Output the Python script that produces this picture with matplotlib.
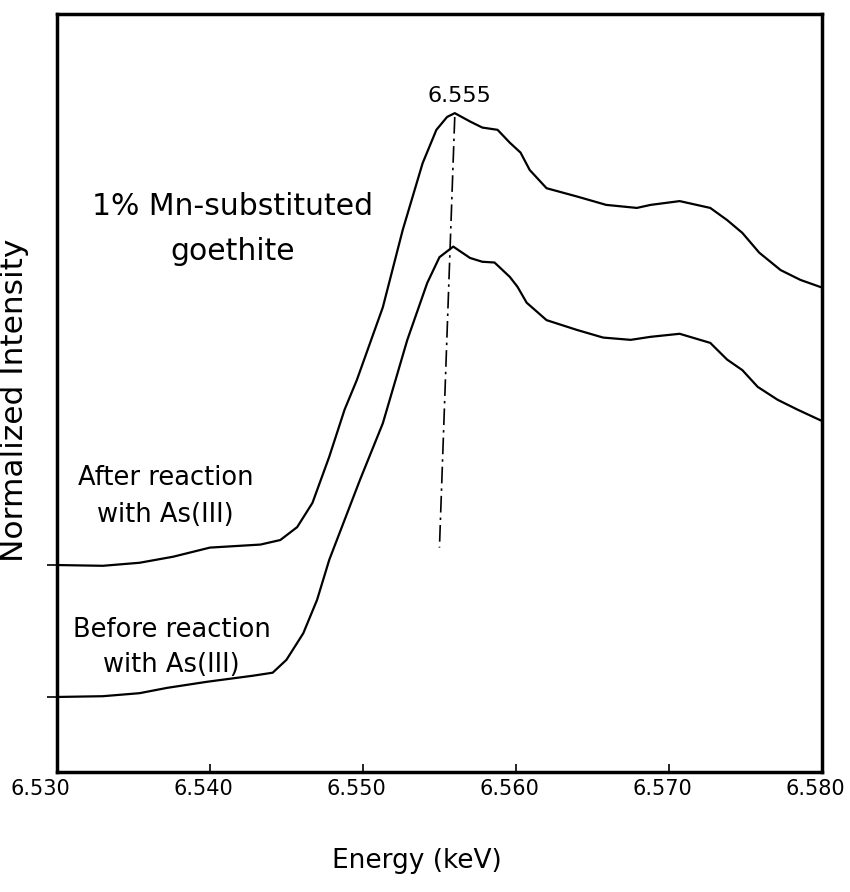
import matplotlib
matplotlib.use("Agg")
import matplotlib.pyplot as plt
import matplotlib.transforms as mtransforms

plt.rcParams['font.family'] = ['DejaVu Sans']

# Mn K-edge XANES (arbitrary normalized units)
after_energy = [6.5300, 6.5330, 6.5354, 6.5376, 6.5400, 6.5433, 6.5446, 6.5457,
                6.5467, 6.5478, 6.5488, 6.5496, 6.5513, 6.5526, 6.5539, 6.5548,
                6.5555, 6.5560, 6.5570, 6.5578, 6.5588, 6.5596, 6.5603, 6.5609,
                6.5620, 6.5640, 6.5659, 6.5679, 6.5688, 6.5707, 6.5727, 6.5738,
                6.5748, 6.5759, 6.5773, 6.5786, 6.5800]
after_int = [0.273, 0.272, 0.276, 0.284, 0.296, 0.300, 0.306, 0.323,
             0.355, 0.416, 0.478, 0.517, 0.613, 0.715, 0.803, 0.847,
             0.864, 0.869, 0.858, 0.850, 0.847, 0.830, 0.817, 0.794,
             0.770, 0.759, 0.748, 0.744, 0.748, 0.753, 0.744, 0.728,
             0.711, 0.685, 0.662, 0.649, 0.639]

before_energy = [6.5300, 6.5330, 6.5354, 6.5372, 6.5398, 6.5428, 6.5441, 6.5450,
                 6.5461, 6.5470, 6.5478, 6.5498, 6.5513, 6.5529, 6.5542, 6.5550,
                 6.5559, 6.5570, 6.5578, 6.5586, 6.5596, 6.5601, 6.5607, 6.5620,
                 6.5640, 6.5657, 6.5675, 6.5688, 6.5707, 6.5727, 6.5738, 6.5748,
                 6.5758, 6.5771, 6.5784, 6.5800]
before_int = [0.099, 0.100, 0.104, 0.111, 0.119, 0.127, 0.131, 0.148,
              0.183, 0.227, 0.280, 0.385, 0.460, 0.570, 0.645, 0.679,
              0.693, 0.678, 0.673, 0.672, 0.653, 0.640, 0.619, 0.596,
              0.583, 0.573, 0.570, 0.574, 0.578, 0.566, 0.544, 0.530,
              0.508, 0.491, 0.478, 0.463]

xticks = [6.530, 6.540, 6.550, 6.560, 6.570, 6.580]
xtick_labels = ['6.530', '6.540', '6.550', '6.560', '6.570', '6.580']
peak_x = [6.5560, 6.5550]
peak_y = [0.864, 0.296]

fig = plt.figure(figsize=(8.5, 8.92), dpi=100)
ax = fig.add_axes([0.067, 0.1345, 0.900, 0.850])

ax.plot(after_energy, after_int, color='black', lw=1.6)
ax.plot(before_energy, before_int, color='black', lw=1.6)
ax.plot(peak_x, peak_y, color='black', lw=1.2, dashes=[10, 3, 1.5, 3])

ax.set_xlim(6.530, 6.580)
ax.set_ylim(0, 1)
ax.set_xticks(xticks)
ax.set_xticklabels(xtick_labels, fontsize=15)
ax.tick_params(axis='x', direction='in', length=6, width=1.2, pad=5)
ax.set_yticks([after_int[0], before_int[0]])
ax.set_yticklabels([])
ax.tick_params(axis='y', direction='out', length=7, width=1.2)
for s in ax.spines.values():
    s.set_linewidth(2.5)

# labels in the original sit a little left of their ticks
for i, lab in enumerate(ax.get_xticklabels()):
    dx = -0.17 if i == 0 else -0.07
    lab.set_transform(lab.get_transform() +
                      mtransforms.ScaledTranslation(dx, 0, fig.dpi_scale_trans))

ax.set_xlabel('Energy (keV)', fontsize=19)
ax.xaxis.set_label_coords(0.47, -0.10)
ax.set_ylabel('Normalized Intensity', fontsize=22.5)
ax.yaxis.set_label_coords(-0.036, 0.49)

ax.text(6.5563, 0.884, '6.555', fontsize=16, ha='center', va='baseline')
ax.text(6.5415, 0.735, '1% Mn-substituted', fontsize=21.5, ha='center', va='baseline')
ax.text(6.5415, 0.675, 'goethite', fontsize=21.5, ha='center', va='baseline')
ax.text(6.5371, 0.379, 'After reaction', fontsize=18.5, ha='center', va='baseline')
ax.text(6.5371, 0.330, 'with As(III)', fontsize=18.5, ha='center', va='baseline')
ax.text(6.5375, 0.178, 'Before reaction', fontsize=18.5, ha='center', va='baseline')
ax.text(6.5375, 0.132, 'with As(III)', fontsize=18.5, ha='center', va='baseline')

fig.savefig('out.png', dpi=100)
